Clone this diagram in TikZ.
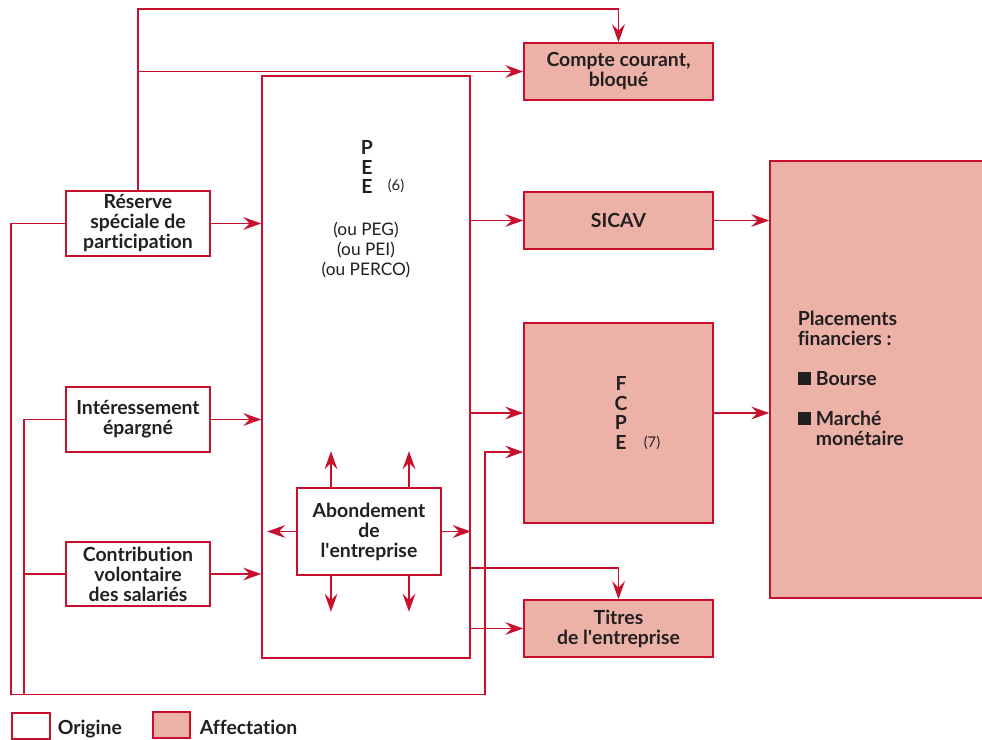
\documentclass[tikz,border=0pt]{standalone}
\usepackage{fontspec}
\setmainfont{Lato}[Ligatures={NoCommon}]
\usetikzlibrary{arrows.meta,calc}
\definecolor{pourpre}{RGB}{200,16,46}
\definecolor{saumon}{RGB}{236,178,168}
\definecolor{encre}{RGB}{35,31,32}
\newcommand\apos{\textquotesingle}
\newcommand\carre{\rule{9.5pt}{9.5pt}}

\begin{document}
\begin{tikzpicture}[x=0.025cm,y=-0.025cm,line width=1.1pt,
  >={Stealth[length=4.5mm,width=3.2mm,inset=1.6mm]},
  lien/.style={draw=pourpre},
  flux/.style={lien,->},
  origine/.style={draw=pourpre,fill=white,text=encre,inner sep=0pt,align=center,
    font=\fontsize{13.8}{14.2}\selectfont\bfseries},
  affect/.style={origine,fill=saumon},
  lettres/.style={text=encre,align=center,inner sep=0pt,font=\fontsize{13.8}{14.2}\selectfont\bfseries},
  note/.style={text=encre,inner sep=0pt,font=\fontsize{10.5}{14.2}\selectfont}]
  \useasboundingbox (0,0) rectangle (982,740);

  % origines
  \node[origine,minimum width=3.6cm,minimum height=1.625cm] (reserve) at (138,223.5)
    {R\'eserve\\sp\'eciale de\\participation};
  \node[origine,minimum width=3.6cm,minimum height=1.625cm] (inter) at (138,419.5)
    {Int\'eressement\\\'epargn\'e};
  \node[origine,minimum width=3.6cm,minimum height=1.6cm] (contrib) at (138,574)
    {Contribution\\volontaire\\des salari\'es};

  % plan d'epargne
  \node[draw=pourpre,minimum width=5.2cm,minimum height=14.55cm,inner sep=0pt] (pee) at (366,367) {};
  \node[lettres] (sigle) at (367,167) {P\\E\\E};
  \node[note] (renvoi6) at (396,186) {(6)};
  \node[note,font=\fontsize{12.3}{14.2}\selectfont,align=center] (variantes) at (366,250)
    {(ou PEG)\\(ou PEI)\\(ou PERCO)};
  \node[origine,minimum width=3.6cm,minimum height=2.175cm] (abond) at (369,531.5)
    {Abondement\\de\\l\apos entreprise};

  % affectations
  \node[affect,minimum width=4.725cm,minimum height=1.425cm] (compte) at (618.5,71.5)
    {Compte courant,\\bloqu\'e};
  \node[affect,minimum width=4.725cm,minimum height=1.425cm] (sicav) at (618.5,220.5) {SICAV};
  \node[affect,minimum width=4.725cm,minimum height=5cm] (fcpe) at (618.5,423) {};
  \node[lettres] (sigle2) at (621,413) {F\\C\\P\\E};
  \node[note] (renvoi7) at (652,443) {(7)};
  \node[affect,minimum width=4.725cm,minimum height=1.425cm] (titres) at (618.5,628.5)
    {Titres\\de l\apos entreprise};
  \node[affect,minimum width=5.75cm,minimum height=10.925cm] (plac) at (885,379.5) {};
  \node[lettres,align=left,anchor=west] (marches) at (797,378)
    {Placements\\financiers :\\[14.2pt]\carre\ Bourse\\[14.2pt]\carre\ March\'e\\
     \hphantom{\carre\ }mon\'etaire};

  % reserve vers compte courant
  \draw[flux] (reserve.north) -- ++(0,-181) -| (compte.north);
  \draw[flux] (reserve.north |- compte.west) -- (compte.west);
  \draw[flux] (reserve.east) -- (reserve.east -| pee.west);
  \draw[flux] (inter.east) -- (inter.east -| pee.west);
  \draw[flux] (contrib.east) -- (contrib.east -| pee.west);

  % retour par le bas vers le FCPE
  \draw[flux] (reserve.west) -- ++(-54,0) -- ++(0,471) coordinate (bas)
    -| ($(fcpe.west)+(-38,29)$) -- ($(fcpe.west)+(0,29)$);
  \draw[lien] (inter.west) -- ++(-41,0) coordinate (coude) -- (coude |- bas);
  \draw[lien] (contrib.west) -- (contrib.west -| coude);

  % sorties du PEE
  \draw[flux] (pee.east |- sicav.west) -- (sicav.west);
  \draw[flux] ($(pee.east |- fcpe.west)+(0,-10)$) -- ($(fcpe.west)+(0,-10)$);
  \draw[flux] (pee.east |- titres.west) -- (titres.west);
  \draw[flux] ($(pee.east)+(0,201)$) -| (titres.north);
  \draw[flux] (sicav.east) -- (sicav.east -| plac.west);
  \draw[flux] ($(fcpe.east)+(0,-10)$) -- ($(fcpe.east -| plac.west)+(0,-10)$);

  % abondement dans tous les sens
  \foreach \dx in {-38,40} {
    \draw[flux] ($(abond.north)+(\dx,0)$) -- ++(0,-36);
    \draw[flux] ($(abond.south)+(\dx,0)$) -- ++(0,36);
  }
  \draw[flux] (abond.west) -- ++(-29,0);
  \draw[flux] (abond.east) -- (abond.east -| pee.east);

  % legende
  \node[origine,minimum width=0.95cm,minimum height=0.65cm] (legorig) at (31,726) {};
  \node[lettres,anchor=base west] (txtorig) at (57,735) {Origine};
  \node[affect,minimum width=0.925cm,minimum height=0.65cm] (legaff) at (171.5,725) {};
  \node[lettres,anchor=base west] (txtaff) at (199,735) {Affectation};
\end{tikzpicture}
\end{document}
